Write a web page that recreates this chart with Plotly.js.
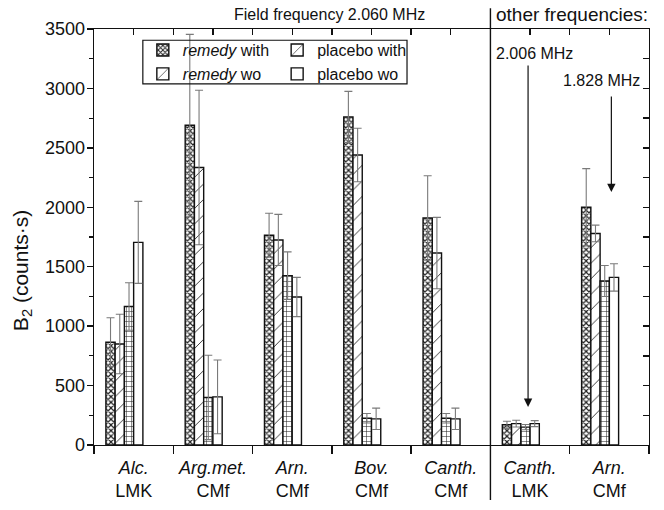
<!DOCTYPE html>
<html>
<head>
<meta charset="utf-8">
<script src="https://cdn.plot.ly/plotly-3.0.1.min.js"></script>
<style>html,body{margin:0;padding:0;background:#fff;}#chart{width:664px;height:510px;}</style>
</head>
<body>
<div id="chart"></div>
<script>
// ---- data ----
const groupIndex = [0, 1, 2, 3, 4, 5, 6];
const labelLine1 = ['Alc.', 'Arg.met.', 'Arn.', 'Bov.', 'Canth.', 'Canth.', 'Arn.'];
const labelLine2 = ['LMK', 'CMf', 'CMf', 'CMf', 'CMf', 'LMK', 'CMf'];

const remedyWith     = [865, 2690, 1765, 2760, 1910, 170, 2000];
const remedyWithErr  = [205, 765, 185, 215, 355, 30, 325];
const remedyWo       = [850, 2335, 1725, 2440, 1615, 180, 1780];
const remedyWoErr    = [250, 650, 215, 225, 300, 28, 70];
const placeboWith    = [1165, 400, 1425, 225, 225, 150, 1380];
const placeboWithErr = [200, 355, 200, 40, 40, 22, 130];
const placeboWo      = [1705, 405, 1245, 220, 220, 180, 1410];
const placeboWoErr   = [345, 310, 165, 90, 90, 25, 115];

const yTicks = [0, 500, 1000, 1500, 2000, 2500, 3000, 3500];

// ---- styling ----
const FONT = 'Arial, "Liberation Sans", sans-serif';
const lineStyle = {color: '#111', width: 1.4};
function err(a) {
  return {type: 'data', array: a, visible: true, color: '#7a7a7a', thickness: 1.1, width: 4};
}
function barTrace(y, e, pattern, legendName, legendId, showLegend) {
  return {
    type: 'bar', name: legendName, x: groupIndex, y: y,
    error_y: err(e),
    marker: {color: '#ffffff', line: lineStyle, pattern: pattern},
    legend: legendId, showlegend: showLegend, hoverinfo: 'y'
  };
}
const patRemWith = {shape: 'x', size: 4, solidity: 0.5, fgcolor: '#222', bgcolor: '#fff'};
const patRemWo   = {shape: '/', size: 11, solidity: 0.08, fgcolor: '#222', bgcolor: '#fff'};
const patPlaWith = {shape: '+', size: 5, solidity: 0.2, fgcolor: '#222', bgcolor: '#fff'};
const patPlaWo   = {shape: '', fgcolor: '#222', bgcolor: '#fff'};

const traces = [
  barTrace(remedyWith, remedyWithErr, patRemWith, '<i>remedy</i> with', 'legend', true),
  barTrace(remedyWo, remedyWoErr, patRemWo, '<i>remedy</i> wo', 'legend', true),
  barTrace(placeboWith, placeboWithErr, patPlaWith, 'placebo with', 'legend2', false),
  barTrace(placeboWo, placeboWoErr, patPlaWo, 'placebo wo', 'legend2', false),
  // legend-only entries for the placebo column (reference legend shows hatched "placebo with")
  {type: 'bar', name: 'placebo with', x: [null], y: [null], legend: 'legend2',
   marker: {color: '#fff', line: lineStyle, pattern: patRemWo}, hoverinfo: 'skip'},
  {type: 'bar', name: 'placebo wo', x: [null], y: [null], legend: 'legend2',
   marker: {color: '#fff', line: lineStyle}, hoverinfo: 'skip'},
  // dummy traces so the extra frame axes are drawn
  {type: 'scatter', x: [null], y: [null], xaxis: 'x2', yaxis: 'y2', showlegend: false, hoverinfo: 'skip'},
  {type: 'scatter', x: [null], y: [null], xaxis: 'x3', yaxis: 'y2', showlegend: false, hoverinfo: 'skip'}
];

const tickText = labelLine1.map((a, i) => '<i>' + a + '</i><br>' + labelLine2[i]);
const boundaries = [];
for (let i = 0; i <= groupIndex.length; i++) boundaries.push(i - 0.5);
const halfTicks = [];
for (let i = 0; i <= 2 * groupIndex.length; i++) halfTicks.push(i * 0.5 - 0.5);
const xr = [-0.5, groupIndex.length - 0.5];
const yr = [0, 3500];

const layout = {
  width: 664, height: 510,
  margin: {l: 94, r: 15, t: 29, b: 65},
  paper_bgcolor: '#fff', plot_bgcolor: 'rgba(0,0,0,0)',
  font: {family: FONT, size: 16, color: '#111'},
  barmode: 'group', bargap: 0.3, bargroupgap: 0,
  xaxis: {
    range: xr, autorange: false, tickmode: 'array', tickvals: groupIndex, ticktext: tickText,
    ticks: '', showgrid: false, zeroline: false, showline: true, linecolor: '#111', linewidth: 1.4,
    tickfont: {size: 18, family: FONT, color: '#111'}, ticklabelstandoff: 6
  },
  xaxis2: {
    overlaying: 'x', anchor: 'y', side: 'bottom', range: xr, autorange: false,
    tickmode: 'array', tickvals: boundaries, ticks: 'outside', ticklen: 8, tickwidth: 1.4, tickcolor: '#111',
    showticklabels: false, showgrid: false, zeroline: false, showline: false
  },
  xaxis3: {
    overlaying: 'x', anchor: 'y2', side: 'top', range: xr, autorange: false,
    tickmode: 'array', tickvals: halfTicks, ticks: 'inside', ticklen: 6, tickwidth: 1.4, tickcolor: '#111',
    showticklabels: false, showgrid: false, zeroline: false, showline: true, linecolor: '#111', linewidth: 1.4
  },
  yaxis: {
    range: yr, autorange: false, tickmode: 'array', tickvals: yTicks,
    ticks: 'outside', ticklen: 6, tickwidth: 1.4, tickcolor: '#111',
    minor: {tickmode: 'linear', tick0: 250, dtick: 500, ticks: 'outside', ticklen: 4, tickwidth: 1.2, tickcolor: '#111', showgrid: false},
    showgrid: false, zeroline: false, showline: true, linecolor: '#111', linewidth: 1.4,
    tickfont: {size: 18, family: FONT, color: '#111'}, ticklabelstandoff: -2
  },
  yaxis2: {
    overlaying: 'y', anchor: 'x', side: 'right', range: yr, autorange: false,
    tickmode: 'linear', tick0: 0, dtick: 250, ticks: 'inside', ticklen: 6, tickwidth: 1.4, tickcolor: '#111',
    showticklabels: false, showgrid: false, zeroline: false, showline: true, linecolor: '#111', linewidth: 1.4
  },
  legend: {
    x: 0.088, y: 0.99, xanchor: 'left', yanchor: 'top', bgcolor: 'rgba(0,0,0,0)',
    borderwidth: 0, font: {size: 16, family: FONT, color: '#111'}, tracegroupgap: 0,
    itemwidth: 30
  },
  legend2: {
    x: 0.33, y: 0.99, xanchor: 'left', yanchor: 'top', bgcolor: 'rgba(0,0,0,0)',
    borderwidth: 0, font: {size: 16, family: FONT, color: '#111'}, tracegroupgap: 0,
    itemwidth: 30
  },
  shapes: [
    {type: 'rect', xref: 'paper', yref: 'paper', x0: 0.088, x1: 0.564, y0: 0.868, y1: 0.973,
     line: {color: '#111', width: 1.2}, fillcolor: 'rgba(0,0,0,0)', layer: 'above'},
    {type: 'line', xref: 'x', yref: 'paper', x0: 4.5, x1: 4.5, y0: -0.132, y1: 1.05,
     line: {color: '#111', width: 1.4}, layer: 'above'}
  ],
  annotations: [
    {xref: 'paper', yref: 'paper', x: -0.13, y: 0.42, xanchor: 'center', yanchor: 'middle',
     textangle: -90, text: 'B<sub>2</sub> (counts·s)', showarrow: false,
     font: {size: 21, family: FONT, color: '#111'}},
    {xref: 'paper', yref: 'paper', x: 0.425, y: 1.036, yanchor: 'middle', xanchor: 'center',
     text: 'Field frequency 2.060 MHz', showarrow: false, font: {size: 16, family: FONT, color: '#111'}},
    {xref: 'paper', yref: 'paper', x: 0.72, y: 1.036, yanchor: 'middle', xanchor: 'left',
     text: 'other frequencies:', showarrow: false, font: {size: 19, family: FONT, color: '#111'}},
    {xref: 'paper', yref: 'paper', x: 0.793, y: 0.942, yanchor: 'middle', xanchor: 'center',
     text: '2.006 MHz', showarrow: false, font: {size: 16, family: FONT, color: '#111'}},
    {xref: 'paper', yref: 'paper', x: 0.915, y: 0.877, yanchor: 'middle', xanchor: 'center',
     text: '1.828 MHz', showarrow: false, font: {size: 16, family: FONT, color: '#111'}},
    {xref: 'x', yref: 'y', x: 5, y: 320, xshift: -2, ax: 0, ay: -343, text: '', showarrow: true,
     arrowhead: 2, arrowsize: 1.4, arrowwidth: 1.2, arrowcolor: '#111'},
    {xref: 'x', yref: 'y', x: 6, y: 2128, xshift: 2, ax: 0, ay: -97, text: '', showarrow: true,
     arrowhead: 2, arrowsize: 1.4, arrowwidth: 1.2, arrowcolor: '#111'}
  ]
};

Plotly.newPlot('chart', traces, layout, {displayModeBar: false, staticPlot: true});
</script>
</body>
</html>
